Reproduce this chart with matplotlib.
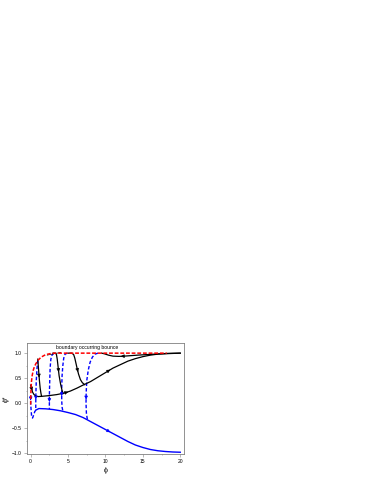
import matplotlib
matplotlib.use("Agg")
import matplotlib.pyplot as plt
from matplotlib.ticker import MultipleLocator

plt.rcParams["font.family"] = ["Liberation Sans", "DejaVu Sans"]

# boundary (red dashed)
red_x = [0, 0.02, 0.05, 0.1, 0.2, 0.35, 0.5, 0.7, 1.0, 1.4, 2.0, 2.6, 3.2, 4, 6, 10, 14, 18.2]
red_y = [-0.03, 0.15, 0.3, 0.42, 0.55, 0.66, 0.73, 0.79, 0.86, 0.92, 0.97, 0.99, 1.0, 1.0, 1.0, 1.0, 1.0, 1.0]

# black trajectories
blk_low_x = [0.0, 0.1, 0.25, 0.45, 0.7, 1.0, 1.5, 2.5, 3.5, 4.5, 5.3, 6.2, 7.0, 8.0, 9.0, 10.0, 11.0, 12.0, 13.0, 14.0, 15.0, 16.0, 17.0, 18.3, 20.0]
blk_low_y = [0.36, 0.3, 0.22, 0.17, 0.14, 0.13, 0.135, 0.15, 0.17, 0.2, 0.24, 0.3, 0.36, 0.43, 0.52, 0.61, 0.7, 0.77, 0.84, 0.89, 0.93, 0.96, 0.98, 0.99, 1.0]
blk1_x = [0.95, 1.0, 1.08, 1.17, 1.27, 1.37, 1.45]
blk1_y = [0.88, 0.78, 0.62, 0.45, 0.3, 0.2, 0.14]
blk2_x = [3.0, 3.3, 3.45, 3.55, 3.65, 3.8, 4.0, 4.2, 4.35]
blk2_y = [1.0, 1.0, 0.97, 0.88, 0.75, 0.55, 0.38, 0.25, 0.19]
blk3_x = [5.0, 5.5, 5.75, 5.9, 6.05, 6.2, 6.4, 6.65, 6.9, 7.2]
blk3_y = [1.0, 1.0, 0.97, 0.9, 0.8, 0.7, 0.58, 0.47, 0.41, 0.37]
blk_top_x = [20, 18.3, 16, 14.3, 12.5, 11.8, 11, 10.4, 9.9, 9.5]
blk_top_y = [1.0, 0.995, 0.975, 0.96, 0.94, 0.935, 0.94, 0.96, 0.985, 1.0]

# blue trajectories
blu_low_x = [0.7, 1.1, 2, 3, 4, 5, 6, 7, 8, 9, 10, 11, 12, 13, 14, 15, 16, 17, 18, 19, 20]
blu_low_y = [-0.14, -0.11, -0.115, -0.13, -0.155, -0.19, -0.23, -0.29, -0.37, -0.45, -0.53, -0.61, -0.69, -0.77, -0.84, -0.89, -0.93, -0.955, -0.97, -0.98, -0.985]
blu_v_x = [0.0, 0.0, 0.05, 0.12, 0.25, 0.4, 0.55, 0.7]
blu_v_y = [0.15, 0.0, -0.12, -0.25, -0.3, -0.24, -0.17, -0.14]
blu_a_x = [0.95, 0.85, 0.75, 0.7, 0.68, 0.68, 0.7]
blu_a_y = [0.86, 0.7, 0.45, 0.2, 0.0, -0.08, -0.13]
blu_b_x = [3.1, 2.85, 2.7, 2.6, 2.55, 2.5, 2.5, 2.5]
blu_b_y = [1.0, 0.96, 0.88, 0.7, 0.45, 0.15, -0.05, -0.12]
blu_c_x = [4.9, 4.6, 4.42, 4.3, 4.2, 4.15, 4.15, 4.2, 4.3]
blu_c_y = [1.0, 0.98, 0.9, 0.75, 0.55, 0.3, 0.05, -0.08, -0.16]
blu_d_x = [9.0, 8.6, 8.25, 7.95, 7.7, 7.5, 7.42, 7.4, 7.45, 7.6]
blu_d_y = [1.0, 0.98, 0.92, 0.82, 0.66, 0.45, 0.2, 0.0, -0.2, -0.35]

fig = plt.figure(figsize=(3.74, 4.84), dpi=100)
ax = fig.add_axes([0.072, 0.062, 0.42, 0.229])


def arrow(ax, xs, ys, i, color):
    x0, y0, x1, y1 = xs[i], ys[i], xs[i + 1], ys[i + 1]
    ax.annotate("", xy=(x0 + 0.65 * (x1 - x0), y0 + 0.65 * (y1 - y0)),
                xytext=(x0 + 0.45 * (x1 - x0), y0 + 0.45 * (y1 - y0)),
                arrowprops=dict(arrowstyle="-|>", color=color, lw=0.5,
                                mutation_scale=5, shrinkA=0, shrinkB=0))


for xs, ys in [(blu_v_x, blu_v_y), (blu_a_x, blu_a_y), (blu_b_x, blu_b_y),
               (blu_c_x, blu_c_y), (blu_d_x, blu_d_y)]:
    ax.plot(xs, ys, color="#0000ff", lw=1.0, ls=(0, (2.5, 1.5)))
ax.plot(blu_low_x, blu_low_y, color="#0000ff", lw=1.0)

for xs, ys in [(blk_low_x, blk_low_y), (blk1_x, blk1_y), (blk2_x, blk2_y),
               (blk3_x, blk3_y), (blk_top_x, blk_top_y)]:
    ax.plot(xs, ys, color="black", lw=0.9)

ax.plot(red_x, red_y, color="#ff0000", lw=1.1, ls=(0, (2.5, 1.2)), zorder=5)

arrow(ax, blk_low_x, blk_low_y, 1, "black")
arrow(ax, blk_low_x, blk_low_y, 9, "black")
arrow(ax, blk_low_x, blk_low_y, 15, "black")
arrow(ax, blk1_x, blk1_y, 2, "black")
arrow(ax, blk2_x, blk2_y, 4, "black")
arrow(ax, blk3_x, blk3_y, 5, "black")
arrow(ax, blk_top_x, blk_top_y, 4, "black")
arrow(ax, blu_v_x, blu_v_y, 0, "#0000ff")
arrow(ax, blu_a_x, blu_a_y, 3, "#0000ff")
arrow(ax, blu_b_x, blu_b_y, 5, "#0000ff")
arrow(ax, blu_c_x, blu_c_y, 5, "#0000ff")
arrow(ax, blu_d_x, blu_d_y, 6, "#0000ff")
arrow(ax, blu_low_x, blu_low_y, 10, "#0000ff")

ax.annotate("boundary occurring bounce", xy=(2.2, 0.96), xytext=(3.4, 1.12),
            fontsize=3.6, va="center",
            arrowprops=dict(arrowstyle="-", color="black", lw=0.5,
                            shrinkA=0, shrinkB=0))

ax.set_xlim(-0.5, 20.5)
ax.set_ylim(-1.02, 1.2)
ax.xaxis.set_major_locator(MultipleLocator(5))
ax.xaxis.set_minor_locator(MultipleLocator(2.5))
ax.yaxis.set_major_locator(MultipleLocator(0.5))
ax.yaxis.set_minor_locator(MultipleLocator(0.25))
ax.tick_params(which="both", direction="out", labelsize=3.6, width=0.4,
               color="#808080", pad=1.5)
ax.tick_params(which="major", length=2)
ax.tick_params(which="minor", length=1)
for s in ax.spines.values():
    s.set_color("#808080")
    s.set_linewidth(0.6)

ax.set_xlabel("ϕ", fontsize=5, labelpad=2)
ax.set_ylabel("ϕ*", fontsize=5, labelpad=2)

fig.savefig("out.png", dpi=100)
